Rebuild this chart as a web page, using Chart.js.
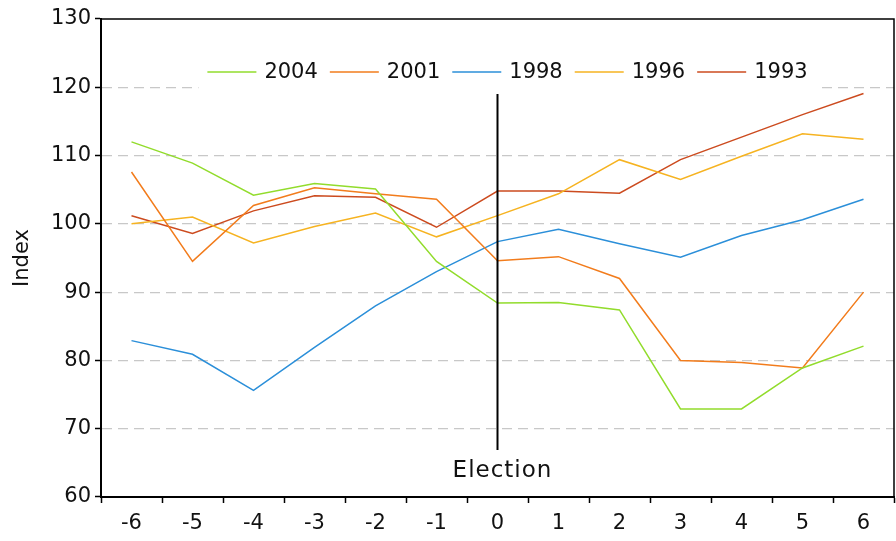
<!DOCTYPE html>
<html>
<head>
<meta charset="utf-8">
<script src="https://cdn.jsdelivr.net/npm/chart.js@4.4.1/dist/chart.umd.min.js"></script>
<style>
  html, body { margin: 0; padding: 0; background: #fff; }
  #wrap { width: 896px; height: 541px; }
</style>
</head>
<body>
<div id="wrap"><canvas id="index-chart"></canvas></div>
<script>
// months around the election
const periods = ['-6', '-5', '-4', '-3', '-2', '-1', '0', '1', '2', '3', '4', '5', '6'];

const idx2004 = [112.0, 108.9, 104.2, 105.9, 105.1, 94.5, 88.4, 88.5, 87.4, 72.9, 72.9, 78.9, 82.1];
const idx2001 = [107.6, 94.5, 102.7, 105.3, 104.4, 103.6, 94.6, 95.2, 92.0, 80.0, 79.7, 78.9, 90.0];
const idx1998 = [82.9, 80.9, 75.6, 81.9, 88.0, 93.0, 97.4, 99.2, 97.1, 95.1, 98.3, 100.6, 103.6];
const idx1996 = [100.0, 101.0, 97.2, 99.6, 101.6, 98.1, 101.2, 104.4, 109.4, 106.5, 109.9, 113.2, 112.4];
const idx1993 = [101.2, 98.6, 101.9, 104.1, 103.9, 99.5, 104.8, 104.8, 104.5, 109.4, 112.7, 116.0, 119.1];

const seriesNames = ['2004', '2001', '1998', '1996', '1993'];
const seriesColors = ['#92dc2c', '#f27c1c', '#2b8fd9', '#f6b321', '#cc4b1f'];

const yTicks = [60, 70, 80, 90, 100, 110, 120, 130];

// election marker
const electionAt = '0';
const electionLabel = 'Election';
const electionFrom = 66.9;
const electionTo = 119.0;

const FONT = '"DejaVu Sans", Verdana, sans-serif';

const allSeries = [idx2004, idx2001, idx1998, idx1996, idx1993];

const datasets = allSeries.map((vals, i) => ({
    label: seriesNames[i],
    data: vals,
    borderColor: seriesColors[i],
    backgroundColor: seriesColors[i],
    borderWidth: 1.5,
    pointRadius: 0,
    tension: 0,
    fill: false
}));

// vertical line + label at the election month
const electionMarker = {
    id: 'electionMarker',
    afterDatasetsDraw(chart) {
        const {ctx, scales: {x, y}} = chart;
        const px = x.getPixelForValue(periods.indexOf(electionAt));
        ctx.save();
        ctx.strokeStyle = '#000';
        ctx.lineWidth = 2;
        ctx.beginPath();
        ctx.moveTo(px, y.getPixelForValue(electionTo));
        ctx.lineTo(px, y.getPixelForValue(electionFrom));
        ctx.stroke();
        ctx.fillStyle = '#111';
        ctx.font = '23px ' + FONT;
        if ('letterSpacing' in ctx) ctx.letterSpacing = '1px';
        ctx.textAlign = 'center';
        ctx.textBaseline = 'middle';
        ctx.fillText(electionLabel, px + 5, y.getPixelForValue(electionFrom) + 21);
        ctx.restore();
    }
};

// legend drawn inside the plot, on a white box over the grid
const innerLegend = {
    id: 'innerLegend',
    beforeDatasetsDraw(chart) {
        const {ctx, chartArea} = chart;
        const cx = (chartArea.left + chartArea.right) / 2 + 12;
        ctx.save();
        ctx.fillStyle = '#fff';
        ctx.fillRect(cx - 311, 52, 622, 40);
        ctx.restore();
    },
    afterDatasetsDraw(chart) {
        const {ctx, chartArea} = chart;
        const lineLen = 49, gap = 8, itemGap = 12;
        ctx.save();
        ctx.font = '21px ' + FONT;
        const widths = seriesNames.map(n => ctx.measureText(n).width);
        let total = widths.reduce((a, w) => a + lineLen + gap + w, 0) + itemGap * (seriesNames.length - 1);
        let x0 = (chartArea.left + chartArea.right) / 2 + 10 - total / 2;
        const ly = 72;
        ctx.textBaseline = 'middle';
        ctx.textAlign = 'left';
        seriesNames.forEach((n, i) => {
            ctx.strokeStyle = seriesColors[i];
            ctx.lineWidth = 1.5;
            ctx.beginPath();
            ctx.moveTo(x0, ly);
            ctx.lineTo(x0 + lineLen, ly);
            ctx.stroke();
            ctx.fillStyle = '#111';
            ctx.fillText(n, x0 + lineLen + gap, ly + 1);
            x0 += lineLen + gap + widths[i] + itemGap;
        });
        ctx.restore();
    }
};

// top and right frame of the plot area
const plotFrame = {
    id: 'plotFrame',
    afterDraw(chart) {
        const {ctx, chartArea: a} = chart;
        ctx.save();
        ctx.strokeStyle = '#000';
        ctx.lineWidth = 1.5;
        ctx.beginPath();
        ctx.moveTo(a.left, a.top);
        ctx.lineTo(a.right, a.top);
        ctx.lineTo(a.right, a.bottom);
        ctx.stroke();
        ctx.restore();
    }
};

const config = {
    type: 'line',
    data: {
        labels: periods,
        datasets: datasets
    },
    options: {
        responsive: true,
        maintainAspectRatio: false,
        animation: false,
        layout: {
            padding: {top: 19, right: 2, left: 0, bottom: 0}
        },
        plugins: {
            legend: {display: false},
            tooltip: {enabled: false}
        },
        scales: {
            x: {
                type: 'category',
                offset: true,
                grid: {
                    offset: true,
                    drawOnChartArea: false,
                    drawTicks: true,
                    tickLength: 6,
                    tickColor: '#000',
                    tickWidth: 1.5
                },
                border: {display: true, color: '#000', width: 2},
                ticks: {
                    color: '#111',
                    font: {family: FONT, size: 21},
                    padding: 8,
                    maxRotation: 0,
                    autoSkip: false
                },
                afterFit(scale) { scale.height = 44; }
            },
            y: {
                min: 60,
                max: 130,
                afterBuildTicks(scale) { scale.ticks = yTicks.map(v => ({value: v})); },
                grid: {
                    color: ctx => (ctx.tick && (ctx.tick.value === 60 || ctx.tick.value === 130)) ? 'rgba(0,0,0,0)' : '#c8c8c8',
                    lineWidth: 1.2,
                    tickLength: 6,
                    tickColor: '#000',
                    tickWidth: 1.5,
                    tickBorderDash: [1, 0]
                },
                border: {display: true, color: '#000', width: 2, dash: [10, 6]},
                ticks: {
                    color: '#111',
                    font: {family: FONT, size: 21},
                    padding: 4
                },
                title: {
                    display: true,
                    text: 'Index',
                    color: '#111',
                    font: {family: FONT, size: 21},
                    padding: {top: 10, bottom: 0}
                },
                afterFit(scale) { scale.width = 101; }
            }
        }
    },
    plugins: [innerLegend, electionMarker, plotFrame]
};

const chart = new Chart(document.getElementById('index-chart'), config);
</script>
</body>
</html>
